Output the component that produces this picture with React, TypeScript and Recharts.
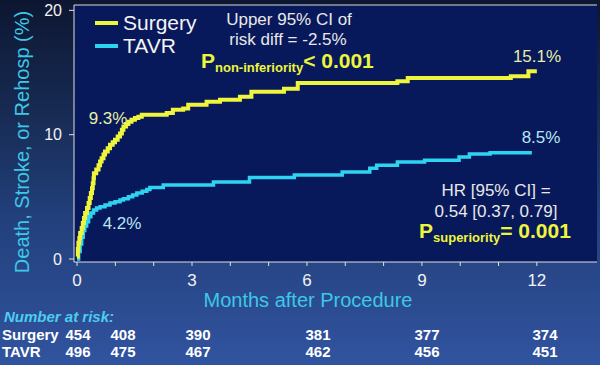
import React from 'react';
import { LineChart, Line, XAxis, YAxis, CartesianGrid } from 'recharts';

// Kaplan-Meier style cumulative event curves (months, %)
const surgeryMonths = [0, 0.02, 0.035, 0.06, 0.08, 0.12, 0.15, 0.18, 0.21, 0.26, 0.3, 0.33, 0.36, 0.39, 0.41, 0.43, 0.44, 0.5, 0.56, 0.6, 0.64, 0.69, 0.73, 0.8, 0.86, 0.93, 0.99, 1.06, 1.12, 1.17, 1.21, 1.28, 1.34, 1.42, 1.51, 1.6, 1.69, 2.34, 2.5, 2.77, 2.9, 3.38, 3.73, 4.25, 4.55, 5.4, 5.76, 8.36, 8.63, 11.32, 11.78, 12.0];
const surgeryRisk = [0.2, 0.8, 1.3, 1.7, 2.1, 2.5, 2.9, 3.3, 3.7, 4.1, 4.5, 4.9, 5.3, 5.7, 6.1, 6.5, 6.9, 7.2, 7.55, 7.85, 8.1, 8.4, 8.65, 8.9, 9.2, 9.4, 9.6, 9.85, 10.1, 10.4, 10.65, 10.85, 11.05, 11.2, 11.35, 11.45, 11.6, 11.75, 12.0, 12.1, 12.4, 12.65, 12.8, 13.05, 13.45, 13.7, 14.15, 14.3, 14.55, 14.7, 15.1, 15.1];

const tavrMonths = [0, 0.04, 0.08, 0.12, 0.16, 0.2, 0.25, 0.3, 0.36, 0.43, 0.51, 0.6, 0.73, 0.86, 0.99, 1.12, 1.21, 1.34, 1.45, 1.56, 1.7, 1.82, 1.9, 2.25, 3.56, 4.5, 5.67, 6.92, 7.64, 7.82, 8.36, 9.07, 9.97, 10.24, 10.78, 11.87];
const tavrRisk = [0, 0.6, 1.2, 1.75, 2.3, 2.65, 3.0, 3.4, 3.7, 3.95, 4.1, 4.2, 4.35, 4.5, 4.6, 4.75, 4.85, 5.0, 5.15, 5.3, 5.45, 5.6, 5.75, 5.95, 6.2, 6.55, 6.75, 7.0, 7.3, 7.55, 7.8, 7.95, 8.2, 8.45, 8.55, 8.55];

const monthTicks = [0, 1, 2, 3, 4, 5, 6, 7, 8, 9, 10, 11, 12];
const riskTicks = [0, 10, 20];

const surgeryAtRisk = [454, 408, 390, 381, 377, 374];
const tavrAtRisk = [496, 475, 467, 462, 456, 451];

// layout
const W = 600;
const H = 365;
const FONT = '"Liberation Sans", Arial, sans-serif';
const X_DOMAIN: [number, number] = [-0.08, 13.57];
const Y_DOMAIN: [number, number] = [-0.24, 20.43];
const atRiskX = [78, 123, 198, 318, 427, 545];

const yellow = '#eef53c';
const cyan = '#2fd3f2';

const surgeryData = surgeryMonths.map((m, i) => ({ m, v: surgeryRisk[i] }));
const tavrData = tavrMonths.map((m, i) => ({ m, v: tavrRisk[i] }));

export default function App() {
  document.body.style.margin = '0';

  return (
    <div
      style={{
        position: 'relative',
        width: W,
        height: H,
        overflow: 'hidden',
        fontFamily: FONT,
        background: 'linear-gradient(180deg, #0d1631 0%, #172a52 30%, #22407c 60%, #2c4c92 85%, #3154a0 100%)',
      }}
    >
      <LineChart
        width={W}
        height={H}
        margin={{ top: 4, right: 3, bottom: 0, left: 0 }}
        style={{ position: 'absolute', left: 0, top: 0 }}
      >
        <CartesianGrid horizontal={false} vertical={false} fill='#08195b' />
        <XAxis
          xAxisId='top'
          orientation='top'
          type='number'
          domain={X_DOMAIN}
          allowDataOverflow
          height={1}
          tick={false}
          tickLine={false}
          axisLine={{ stroke: '#d8d8d8' }}
        />
        <XAxis
          type='number'
          dataKey='m'
          domain={X_DOMAIN}
          allowDataOverflow
          ticks={monthTicks}
          interval={0}
          height={103}
          tickSize={4}
          tickMargin={8}
          tickFormatter={(v) => (v % 3 === 0 ? String(v) : '')}
          tick={{ fill: '#f2f2f2', fontSize: 17, fontFamily: FONT }}
          tickLine={{ stroke: '#e0e0e0' }}
          axisLine={{ stroke: '#e0e0e0' }}
        />
        <YAxis
          type='number'
          domain={Y_DOMAIN}
          allowDataOverflow
          ticks={riskTicks}
          interval={0}
          width={74}
          tickSize={5}
          tickMargin={7}
          tick={{ fill: '#f2f2f2', fontSize: 16, fontFamily: FONT }}
          tickLine={{ stroke: '#e0e0e0' }}
          axisLine={{ stroke: '#e0e0e0' }}
        />
        <Line
          data={tavrData}
          dataKey='v'
          type='stepAfter'
          stroke={cyan}
          strokeWidth={3.5}
          dot={false}
          isAnimationActive={false}
        />
        <Line
          data={surgeryData}
          dataKey='v'
          type='stepAfter'
          stroke={yellow}
          strokeWidth={4}
          dot={false}
          isAnimationActive={false}
        />
      </LineChart>

      <svg width={W} height={H} style={{ position: 'absolute', left: 0, top: 0, pointerEvents: 'none' }} fontFamily={FONT}>
        {/* y axis title */}
        <text transform='translate(29,142) rotate(-90)' textAnchor='middle' fontSize={20} fill='#3cc8e6'>
          Death, Stroke, or Rehosp (%)
        </text>

        {/* legend */}
        <rect x={95} y={21} width={23} height={4} fill={yellow} />
        <rect x={95} y={44} width={23} height={4} fill={cyan} />
        <text x={123} y={30} fontSize={21} fill='#f4f4f4'>Surgery</text>
        <text x={123} y={53} fontSize={21} fill='#f4f4f4'>TAVR</text>

        {/* non-inferiority */}
        <text x={289} y={25} fontSize={17} fill='#e8e8e8' textAnchor='middle'>Upper 95% CI of</text>
        <text x={288} y={45} fontSize={17} fill='#e8e8e8' textAnchor='middle'>risk diff = -2.5%</text>
        <text x={201} y={68} fontSize={21} fontWeight='bold' fill={yellow}>
          P<tspan fontSize={13} dy={4}>non-inferiority</tspan>
          <tspan dy={-4}>{'< 0.001'}</tspan>
        </text>

        {/* curve labels */}
        <text x={108} y={124} fontSize={17} fill='#e6eea6' textAnchor='middle'>9.3%</text>
        <text x={537} y={62} fontSize={17} fill='#e6eea6' textAnchor='middle'>15.1%</text>
        <text x={541} y={143} fontSize={17} fill='#b8e6f2' textAnchor='middle'>8.5%</text>
        <text x={122} y={229} fontSize={17} fill='#b8e6f2' textAnchor='middle'>4.2%</text>

        {/* superiority */}
        <text x={496} y={196} fontSize={17} fill='#e8e8e8' textAnchor='middle'>HR [95% CI] =</text>
        <text x={496} y={217} fontSize={17} fill='#e8e8e8' textAnchor='middle'>0.54 [0.37, 0.79]</text>
        <text x={419} y={238} fontSize={21} fontWeight='bold' fill={yellow}>
          P<tspan fontSize={13} dy={4}>superiority</tspan>
          <tspan dy={-4}>= 0.001</tspan>
        </text>

        {/* x axis title */}
        <text x={308} y={307} fontSize={20} fill='#3cc8e6' textAnchor='middle'>Months after Procedure</text>

        {/* number at risk */}
        <text x={4} y={322} fontSize={15} fontWeight='bold' fontStyle='italic' fill='#4ccdf0'>Number at risk:</text>
        <text x={2} y={340} fontSize={15} fontWeight='bold' fill='#ffffff'>Surgery</text>
        <text x={2} y={357} fontSize={15} fontWeight='bold' fill='#ffffff'>TAVR</text>
        {surgeryAtRisk.map((n, i) => (
          <text key={'s' + i} x={atRiskX[i]} y={340} fontSize={15} fontWeight='bold' fill='#ffffff' textAnchor='middle'>
            {n}
          </text>
        ))}
        {tavrAtRisk.map((n, i) => (
          <text key={'t' + i} x={atRiskX[i]} y={357} fontSize={15} fontWeight='bold' fill='#ffffff' textAnchor='middle'>
            {n}
          </text>
        ))}
      </svg>
    </div>
  );
}
